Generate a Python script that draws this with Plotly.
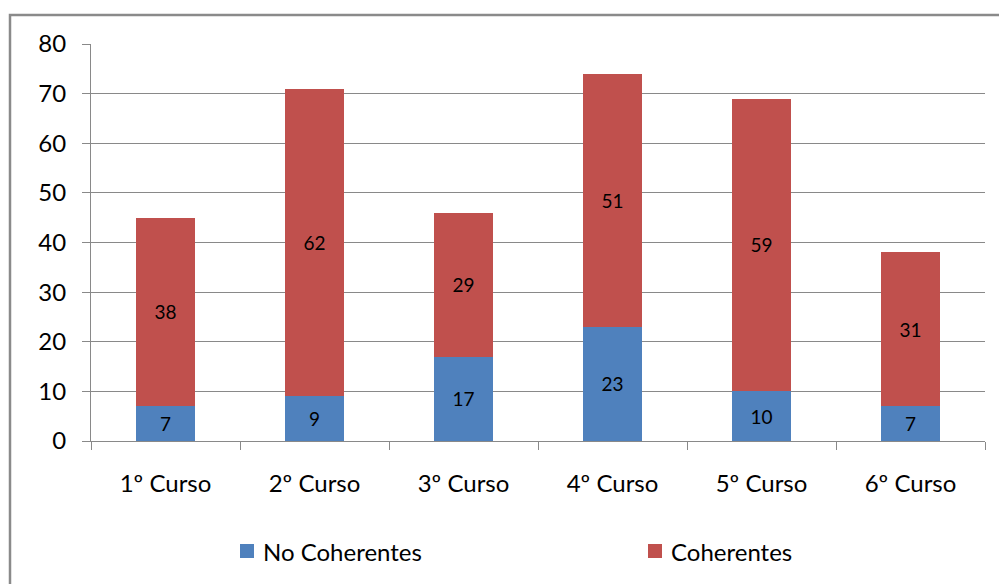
import plotly.graph_objects as go

# Students per course, split by coherence
cursos = ["1º Curso", "2º Curso", "3º Curso", "4º Curso", "5º Curso", "6º Curso"]
no_coherentes = [7, 9, 17, 23, 10, 7]
coherentes = [38, 62, 29, 51, 59, 31]
series_names = ["No Coherentes", "Coherentes"]

y_ticks = [0, 10, 20, 30, 40, 50, 60, 70, 80]

BLUE = "#4F81BD"
RED = "#C0504D"
GRID = "#898989"
FONT = "Lato"

# Plot-area geometry in pixels, used to place the frame and legend keys
W, H = 999, 584
L, R, T, B = 91, 14, 44, 143
PW, PH = W - L - R, H - T - B


def px_x(x):
    return (x - L) / PW


def px_y(y):
    return (H - B - y) / PH


fig = go.Figure()
for name, vals, color in zip(series_names, [no_coherentes, coherentes], [BLUE, RED]):
    fig.add_trace(go.Bar(
        x=cursos, y=vals, name=name,
        marker=dict(color=color, line=dict(width=0)),
        text=vals, textposition="inside", insidetextanchor="middle",
        textfont=dict(family=FONT, size=19, color="#000000"),
        constraintext="none",
    ))

fig.update_layout(
    width=W, height=H,
    margin=dict(l=L, r=R, t=T, b=B),
    barmode="stack", bargap=0.6,
    plot_bgcolor="white", paper_bgcolor="white",
    font=dict(family=FONT, size=24, color="#000000"),
    showlegend=False,
    xaxis=dict(
        type="category", range=[-0.5, 5.5], showgrid=False,
        showline=True, linecolor=GRID, linewidth=1,
        ticks="outside", tickson="boundaries", ticklen=8, tickcolor=GRID,
        ticklabelstandoff=21, tickfont=dict(family=FONT, size=24, color="#000000"),
    ),
    yaxis=dict(
        range=[0, 80], tickvals=y_ticks, showgrid=True, gridcolor=GRID, gridwidth=1,
        showline=True, linecolor=GRID, linewidth=1, zeroline=False,
        ticks="outside", ticklen=8, tickcolor=GRID,
        ticklabelstandoff=11, tickfont=dict(family=FONT, size=24, color="#000000"),
    ),
    uniformtext=dict(mode=False),
)

# Chart frame around the whole drawing area
fig.add_shape(
    type="rect", xref="paper", yref="paper",
    x0=px_x(10), x1=px_x(1010), y0=px_y(600), y1=px_y(15),
    line=dict(color="#8a8a8a", width=2.5), fillcolor="rgba(0,0,0,0)", layer="below",
)

# Legend below the plot: a colour key and the series name for each trace
legend_keys = [(240, BLUE), (648, RED)]
for (kx, color), name in zip(legend_keys, series_names):
    fig.add_shape(
        type="rect", xref="paper", yref="paper",
        x0=px_x(kx), x1=px_x(kx + 14), y0=px_y(558), y1=px_y(544),
        line=dict(width=0), fillcolor=color,
    )
    fig.add_annotation(
        xref="paper", yref="paper", x=px_x(kx + 21), y=px_y(551),
        xanchor="left", yanchor="middle", showarrow=False, text=name,
        font=dict(family=FONT, size=24, color="#000000"),
    )

fig.write_html("out.html")
